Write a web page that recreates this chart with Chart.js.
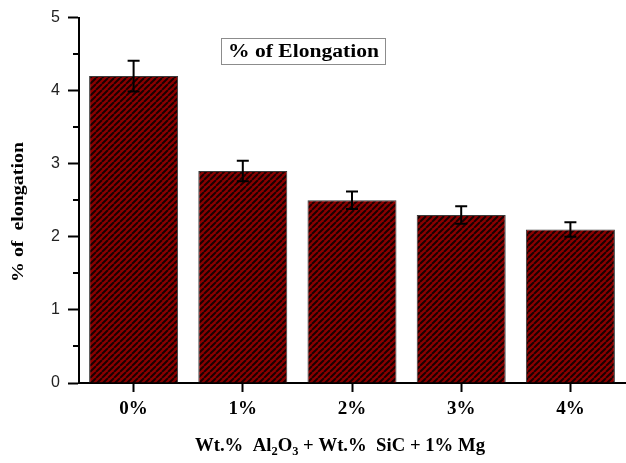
<!DOCTYPE html>
<html>
<head>
<meta charset="utf-8">
<script src="https://cdn.jsdelivr.net/npm/chart.js@4/dist/chart.umd.min.js"></script>
<style>
  html, body { margin: 0; padding: 0; background: #fff; }
  #wrap { width: 626px; height: 463px; position: relative; }
</style>
</head>
<body>
<div id="wrap"><canvas id="c" width="626" height="463"></canvas></div>
<script>
const categories = ['0%', '1%', '2%', '3%', '4%'];
const elongation = [4.2, 2.9, 2.5, 2.3, 2.1];
const errorValues = [0.21, 0.14, 0.12, 0.12, 0.10];
const yMin = 0, yMax = 5, yStep = 1, yMinorStep = 0.5;
const legendLabel = '% of Elongation';
const yTitle = '% of  elongation';
const xTitleParts = [
  { t: 'Wt.%  Al', sub: false },
  { t: '2', sub: true },
  { t: 'O', sub: false },
  { t: '3', sub: true },
  { t: ' + Wt.%  SiC + 1% Mg', sub: false }
];

const SERIF = '"Liberation Serif", "Times New Roman", serif';
const SANS = '"Liberation Sans", Arial, sans-serif';

function makePattern() {
  const s = 6;
  const c = document.createElement('canvas');
  c.width = s; c.height = s;
  const g = c.getContext('2d');
  g.fillStyle = '#8a0000';
  g.fillRect(0, 0, s, s);
  g.strokeStyle = '#1a0000';
  g.lineWidth = 2;
  g.beginPath();
  for (let k = -1; k <= 1; k++) {
    g.moveTo(k * s, s);
    g.lineTo(k * s + s, 0);
  }
  g.stroke();
  return g.createPattern(c, 'repeat');
}

function fillStretched(ctx, text, x, y, targetWidth) {
  const w = ctx.measureText(text).width;
  const k = targetWidth / w;
  ctx.save();
  ctx.translate(x, y);
  ctx.scale(k, 1);
  ctx.fillText(text, 0, 0);
  ctx.restore();
}

const decorPlugin = {
  id: 'decor',
  afterDatasetsDraw(chart) {
    const ctx = chart.ctx;
    const xs = chart.scales.x, ys = chart.scales.y;
    ctx.save();
    // error bars
    ctx.strokeStyle = '#000';
    ctx.lineWidth = 2;
    const meta = chart.getDatasetMeta(0);
    meta.data.forEach((bar, i) => {
      const x = bar.x;
      const top = ys.getPixelForValue(elongation[i] + errorValues[i]);
      const bot = ys.getPixelForValue(elongation[i] - errorValues[i]);
      ctx.beginPath();
      ctx.moveTo(x, top); ctx.lineTo(x, bot);
      ctx.moveTo(x - 6, top); ctx.lineTo(x + 6, top);
      ctx.moveTo(x - 6, bot); ctx.lineTo(x + 6, bot);
      ctx.stroke();
    });
    // minor ticks on y
    ctx.lineWidth = 2;
    for (let v = yMin + yMinorStep; v < yMax; v += yStep) {
      const py = Math.round(ys.getPixelForValue(v));
      ctx.beginPath();
      ctx.moveTo(xs.left - 6, py);
      ctx.lineTo(xs.left, py);
      ctx.stroke();
    }
    // legend box
    const bx = 221, by = 38, bw = 164, bh = 26;
    ctx.fillStyle = '#fff';
    ctx.fillRect(bx, by, bw, bh);
    ctx.strokeStyle = '#8c8c8c';
    ctx.lineWidth = 1;
    ctx.strokeRect(bx + 0.5, by + 0.5, bw, bh);
    ctx.fillStyle = '#000';
    ctx.font = 'bold 18px ' + SERIF;
    ctx.textAlign = 'left';
    ctx.textBaseline = 'middle';
    fillStretched(ctx, legendLabel, bx + 7, by + bh / 2 + 1, 151);
    // y title
    ctx.save();
    ctx.translate(19, 282);
    ctx.rotate(-Math.PI / 2);
    ctx.font = 'bold 17px ' + SERIF;
    fillStretched(ctx, yTitle, 0, 0, 140);
    ctx.restore();
    // x title with subscripts
    const mainFont = 'bold 18px ' + SERIF;
    const subFont = 'bold 12px ' + SERIF;
    let total = 0;
    xTitleParts.forEach(p => {
      ctx.font = p.sub ? subFont : mainFont;
      total += ctx.measureText(p.t).width;
    });
    const k = 290 / total;
    ctx.save();
    ctx.translate(195, 451);
    ctx.scale(k, 1);
    let cx = 0;
    ctx.textAlign = 'left';
    ctx.textBaseline = 'alphabetic';
    xTitleParts.forEach(p => {
      ctx.font = p.sub ? subFont : mainFont;
      ctx.fillText(p.t, cx, p.sub ? 4 : 0);
      cx += ctx.measureText(p.t).width;
    });
    ctx.restore();
    ctx.restore();
  }
};

new Chart(document.getElementById('c'), {
  type: 'bar',
  data: {
    labels: categories,
    datasets: [{
      label: legendLabel,
      data: elongation,
      backgroundColor: makePattern(),
      borderColor: '#3a3a3a',
      borderWidth: 1,
      barPercentage: 0.815,
      categoryPercentage: 1.0
    }]
  },
  options: {
    responsive: false,
    animation: false,
    devicePixelRatio: 1,
    layout: { padding: { top: 15, right: 1, left: 0, bottom: 0 } },
    plugins: { legend: { display: false }, tooltip: { enabled: false } },
    scales: {
      x: {
        offset: true,
        grid: {
          offset: false,
          drawOnChartArea: false,
          drawTicks: true,
          tickLength: 9,
          tickWidth: 2,
          tickColor: '#000'
        },
        border: { display: true, color: '#000', width: 2 },
        ticks: {
          color: '#000',
          padding: 6,
          font: { family: SERIF, size: 19, weight: 'bold' }
        },
        afterFit(scale) { scale.height = 80; }
      },
      y: {
        min: yMin,
        max: yMax,
        grid: {
          drawOnChartArea: false,
          drawTicks: true,
          tickLength: 11,
          tickWidth: 2,
          tickColor: '#000'
        },
        border: { display: true, color: '#000', width: 2 },
        ticks: {
          stepSize: yStep,
          color: '#222',
          padding: 8,
          font: { family: SANS, size: 16 }
        },
        afterFit(scale) { scale.width = 79; }
      }
    }
  },
  plugins: [decorPlugin]
});
</script>
</body>
</html>
